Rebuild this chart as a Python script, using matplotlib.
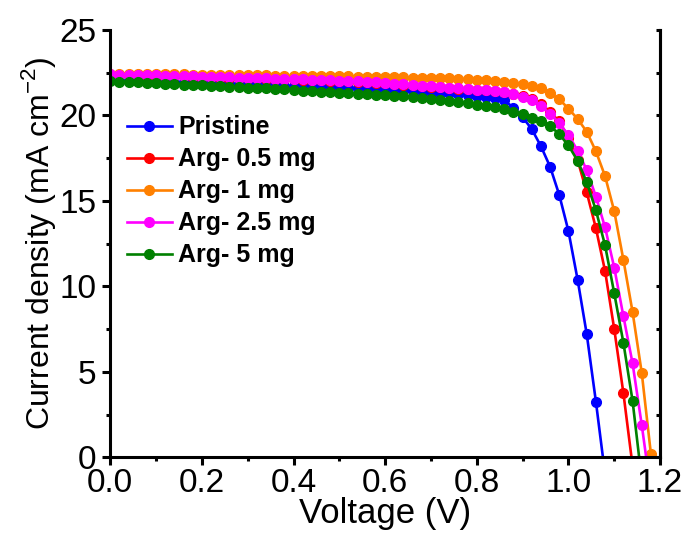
import matplotlib
matplotlib.use("Agg")
import matplotlib.pyplot as plt
from matplotlib.ticker import MultipleLocator

plt.rcParams['font.family'] = ['Liberation Sans', 'DejaVu Sans']
plt.rcParams['mathtext.fontset'] = 'custom'
plt.rcParams['mathtext.rm'] = 'Liberation Sans'

# voltage grid (V)
voltage = [0.00, 0.02, 0.04, 0.06, 0.08, 0.10, 0.12, 0.14, 0.16, 0.18,
           0.20, 0.22, 0.24, 0.26, 0.28, 0.30, 0.32, 0.34, 0.36, 0.38,
           0.40, 0.42, 0.44, 0.46, 0.48, 0.50, 0.52, 0.54, 0.56, 0.58,
           0.60, 0.62, 0.64, 0.66, 0.68, 0.70, 0.72, 0.74, 0.76, 0.78,
           0.80, 0.82, 0.84, 0.86, 0.88, 0.90, 0.92, 0.94, 0.96, 0.98,
           1.00, 1.02, 1.04, 1.06, 1.08, 1.10, 1.12, 1.14, 1.16, 1.18]

# current density (mA cm-2)
pristine = [22.05, 22.04, 22.02, 22.00, 21.99, 21.97, 21.95, 21.94, 21.92, 21.90,
            21.89, 21.87, 21.85, 21.84, 21.82, 21.80, 21.78, 21.77, 21.75, 21.73,
            21.71, 21.70, 21.68, 21.66, 21.64, 21.62, 21.60, 21.58, 21.56, 21.54,
            21.52, 21.50, 21.47, 21.44, 21.41, 21.38, 21.34, 21.30, 21.26, 21.21,
            21.16, 21.10, 21.02, 20.88, 20.45, 19.90, 19.20, 18.20, 17.00, 15.35,
            13.24, 10.40, 7.20, 3.25, -1.00]

arg_05 = [22.38, 22.37, 22.36, 22.34, 22.33, 22.32, 22.30, 22.29, 22.28, 22.26,
          22.25, 22.24, 22.22, 22.21, 22.20, 22.18, 22.17, 22.15, 22.14, 22.12,
          22.11, 22.09, 22.08, 22.06, 22.04, 22.02, 22.00, 21.98, 21.95, 21.92,
          21.89, 21.84, 21.80, 21.76, 21.72, 21.68, 21.64, 21.60, 21.56, 21.52,
          21.49, 21.47, 21.45, 21.38, 21.28, 21.12, 20.95, 20.70, 20.20, 19.65,
          18.70, 17.40, 15.50, 13.40, 10.90, 7.50, 3.75, -0.50]

arg_1 = [22.45, 22.45, 22.44, 22.43, 22.42, 22.42, 22.41, 22.40, 22.40, 22.39,
         22.38, 22.38, 22.37, 22.36, 22.36, 22.35, 22.34, 22.34, 22.33, 22.32,
         22.32, 22.31, 22.30, 22.30, 22.29, 22.28, 22.28, 22.27, 22.26, 22.25,
         22.25, 22.24, 22.23, 22.22, 22.21, 22.20, 22.19, 22.17, 22.15, 22.13,
         22.10, 22.07, 22.03, 21.98, 21.92, 21.85, 21.75, 21.58, 21.30, 20.95,
         20.40, 19.80, 19.05, 17.90, 16.45, 14.40, 11.55, 8.50, 4.95, 0.20]

arg_25 = [22.40, 22.39, 22.38, 22.36, 22.35, 22.34, 22.32, 22.31, 22.30, 22.28,
          22.27, 22.26, 22.24, 22.23, 22.22, 22.20, 22.19, 22.17, 22.16, 22.14,
          22.13, 22.11, 22.10, 22.08, 22.06, 22.04, 22.02, 22.00, 21.97, 21.94,
          21.91, 21.86, 21.82, 21.78, 21.74, 21.70, 21.66, 21.62, 21.58, 21.54,
          21.50, 21.47, 21.44, 21.36, 21.26, 21.08, 20.90, 20.55, 20.10, 19.55,
          18.85, 17.95, 16.80, 15.25, 13.45, 11.10, 8.25, 5.50, 1.90, -2.00]

arg_5 = [22.00, 21.98, 21.96, 21.93, 21.91, 21.88, 21.86, 21.83, 21.81, 21.78,
         21.76, 21.73, 21.71, 21.68, 21.66, 21.63, 21.60, 21.58, 21.55, 21.52,
         21.49, 21.46, 21.43, 21.40, 21.37, 21.34, 21.31, 21.28, 21.25, 21.21,
         21.18, 21.15, 21.11, 21.07, 21.03, 20.99, 20.93, 20.86, 20.79, 20.71,
         20.63, 20.56, 20.50, 20.40, 20.20, 20.10, 19.88, 19.65, 19.40, 18.90,
         18.25, 17.35, 16.10, 14.45, 12.40, 9.60, 6.70, 3.30, -1.30]

serie = [pristine, arg_05, arg_1, arg_25, arg_5]
etichette = ["Pristine", "Arg- 0.5 mg", "Arg- 1 mg", "Arg- 2.5 mg", "Arg- 5 mg"]
colori = ["#0000ff", "#ff0000", "#ff8000", "#ff00ff", "#008000"]

fig = plt.figure(figsize=(6.89, 5.33), dpi=100)
ax = fig.add_axes([0.160, 0.142, 0.798, 0.8017])

for j, lab, col in zip(serie, etichette, colori):
    ax.plot(voltage[:len(j)], j, color=col, marker='o', markersize=7,
            linewidth=1.9, label=lab)

ax.set_xlim(0, 1.2)
ax.set_ylim(0, 25)
ax.xaxis.set_major_locator(MultipleLocator(0.2))
ax.xaxis.set_minor_locator(MultipleLocator(0.1))
ax.yaxis.set_major_locator(MultipleLocator(5))
ax.yaxis.set_minor_locator(MultipleLocator(2.5))
ax.xaxis.set_major_formatter(plt.FuncFormatter(lambda v, p: "{:.1f}".format(v)))

ax.spines['top'].set_visible(False)
for s in ['left', 'bottom', 'right']:
    ax.spines[s].set_linewidth(2.2)

ax.tick_params(which='major', direction='out', length=6, width=2.2, pad=4, labelsize=24)
ax.tick_params(axis='x', which='major', pad=2)
ax.tick_params(which='minor', direction='out', length=3, width=2.2)

# tacche interne sull'asse destro
ax2 = ax.secondary_yaxis('right')
ax2.yaxis.set_major_locator(MultipleLocator(2.5))
ax2.tick_params(axis='y', direction='in', length=3, width=2.2, labelright=False)
ax2.spines['right'].set_linewidth(2.2)

ax.set_xlabel("Voltage (V)", size=25)
ax.set_ylabel(r"Current density (mA cm$^{\mathregular{-2}}$)", size=23)
ax.xaxis.set_label_coords(0.5, -0.093)
ax.yaxis.set_label_coords(-0.095, 0.5)

lg = ax.legend(loc='upper left', bbox_to_anchor=(0.03, 0.80), frameon=False,
               prop={'weight': 'bold', 'size': 18}, handlelength=1.8,
               handletextpad=0.25, labelspacing=0.32,
               borderpad=0, borderaxespad=0)

fig.savefig("out.png", dpi=100)
plt.close(fig)
